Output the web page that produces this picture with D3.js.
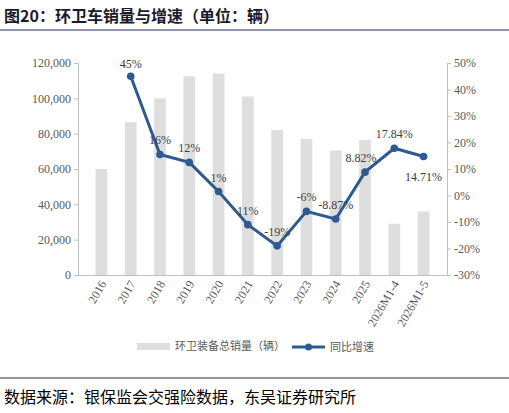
<!DOCTYPE html><html><head><meta charset="utf-8"><script src="https://d3js.org/d3.v7.min.js"></script>
<style>body{margin:0;background:#fff}</style></head><body><svg id="c" width="509" height="413"></svg>
<script>
const categories=["2016","2017","2018","2019","2020","2021","2022","2023","2024","2025","2026M1-4","2026M1-5"];
const sales=[60000,86500,100000,112500,114000,101000,82000,77000,70500,76500,29000,36000];
const growth=[null,45,15.5,12.5,1.5,-11,-19,-6,-8.87,8.82,17.84,14.71];
const growthLabels=["","45%","16%","12%","1%","11%","-19%","-6%","-8.87%","8.82%","17.84%","14.71%"];
const leftTicks=[0,20000,40000,60000,80000,100000,120000];
const rightTicks=[-30,-20,-10,0,10,20,30,40,50];
const svg=d3.select("#c");
const F="Liberation Serif, DejaVu Serif, serif";
const CJK="Noto Sans CJK SC, sans-serif";
svg.append("text").attr("x",4).attr("y",22).style("font-family",CJK).attr("font-weight","bold").attr("font-size",16).attr("fill","#1a1a2e").text("图20：环卫车销量与增速（单位：辆）");
svg.append("line").attr("x1",0).attr("x2",509).attr("y1",30).attr("y2",30).attr("stroke","#1f2d4d").attr("stroke-width",1);
const x=d3.scaleBand().domain(categories).range([78,447]).padding(0.6);
const y=d3.scaleLinear().domain([0,120000]).range([275,63]);
const y2=d3.scaleLinear().domain([-30,50]).range([275,63]);
const gl=svg.append("g").attr("transform","translate(78,0)").call(d3.axisLeft(y).tickValues(leftTicks).tickFormat(d3.format(",")).tickSize(4));
const gr=svg.append("g").attr("transform","translate(447,0)").call(d3.axisRight(y2).tickValues(rightTicks).tickFormat(d=>d+"%").tickSize(4));
[gl,gr].forEach(g=>{g.selectAll("path,line").attr("stroke","#bfbfbf");g.selectAll("text").style("font-family",F).style("font-size","12px").attr("fill","#595959");});
const gx=svg.append("g").attr("transform","translate(0,275)").call(d3.axisBottom(x).tickSize(0));
gx.select("path").attr("stroke","#bfbfbf");
gx.selectAll("text").style("font-family",F).style("font-size","12px").attr("fill","#595959").attr("text-anchor","end").attr("transform","rotate(-60)").attr("dx","-0.4em").attr("dy","0.5em");
svg.selectAll(".bar").data(sales).join("rect").attr("x",(d,i)=>x(categories[i])).attr("width",x.bandwidth()).attr("y",d=>y(d)).attr("height",d=>275-y(d)).attr("fill","#dedede");
const pts=growth.map((g,i)=>({g,i})).filter(d=>d.g!==null);
const cx=d=>x(categories[d.i])+x.bandwidth()/2;
svg.append("path").datum(pts).attr("d",d3.line().x(cx).y(d=>y2(d.g))).attr("fill","none").attr("stroke","#2f5a8f").attr("stroke-width",3);
svg.selectAll(".pt").data(pts).join("circle").attr("cx",cx).attr("cy",d=>y2(d.g)).attr("r",3.8).attr("fill","#2f5a8f");
const off={1:[0,-8],2:[0,-10],3:[0,-10],4:[0,-10],5:[0,-10],6:[0,-10],7:[0,-10],8:[0,-10],9:[-4,-10],10:[0,-10],11:[0,24]};
svg.selectAll(".lb").data(pts).join("text").attr("x",d=>cx(d)+off[d.i][0]).attr("y",d=>y2(d.g)+off[d.i][1]).attr("text-anchor","middle").style("font-family",F).style("font-size","12px").attr("fill","#404040").text(d=>growthLabels[d.i]);
const lg=svg.append("g");
lg.append("rect").attr("x",137).attr("y",343).attr("width",33).attr("height",7).attr("fill","#dedede");
lg.append("text").attr("x",175).attr("y",350).style("font-family",CJK).attr("font-size",11).attr("fill","#595959").text("环卫装备总销量（辆）");
lg.append("line").attr("x1",292).attr("x2",325).attr("y1",347).attr("y2",347).attr("stroke","#2f5a8f").attr("stroke-width",3);
lg.append("circle").attr("cx",308.5).attr("cy",347).attr("r",3.5).attr("fill","#2f5a8f");
lg.append("text").attr("x",330).attr("y",351).style("font-family",CJK).attr("font-size",11).attr("fill","#595959").text("同比增速");
svg.append("line").attr("x1",0).attr("x2",509).attr("y1",378).attr("y2",378).attr("stroke","#1f2d4d").attr("stroke-width",1);
svg.append("text").attr("x",4).attr("y",403).style("font-family",CJK).attr("font-size",16).attr("fill","#000").text("数据来源：银保监会交强险数据，东吴证券研究所");
</script></body></html>
